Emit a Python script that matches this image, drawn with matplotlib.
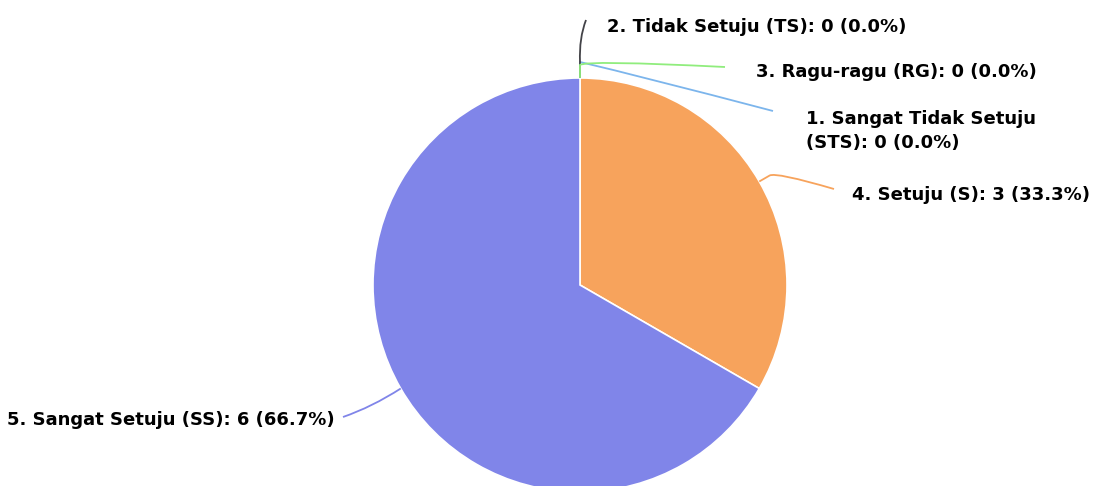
import matplotlib.pyplot as plt
from matplotlib.path import Path
from matplotlib.patches import PathPatch
import numpy as np

categories = ['1. Sangat Tidak Setuju (STS)', '2. Tidak Setuju (TS)', '3. Ragu-ragu (RG)',
              '4. Setuju (S)', '5. Sangat Setuju (SS)']
values = [0, 0, 0, 3, 6]
colors = ['#7cb5ec', '#434348', '#90ed7d', '#f7a35c', '#8085e9']

W, H = 1094, 486
CX, CY, R = 580, 285, 207


def Y(y):
    # pixel from top -> data y
    return H - y


fig = plt.figure(figsize=(W / 100, H / 100), dpi=100)
ax = fig.add_axes([0, 0, 1, 1])

wedges, _ = ax.pie(values, colors=colors, startangle=90, counterclock=False,
                   center=(CX, Y(CY)), radius=R, normalize=True,
                   wedgeprops=dict(edgecolor='white', linewidth=1.2))
ax.set_xlim(0, W)
ax.set_ylim(0, H)
ax.set_aspect('equal')
ax.axis('off')

total = sum(values)
# label layout: (text x, text y, ha, connector end x, end y, bend control, radial stub)
layout = [
    (806, 131, 'left', 773, 111, (640, 76), 16),
    (607, 27, 'left', 586, 20, (579, 38), 16),
    (756, 72, 'left', 725, 67, (585, 60), 13),
    (852, 195, 'left', 834, 189, (776, 172), 12),
    (335, 420, 'right', 343, 417, (372, 407), 0),
]

for w, cat, v, col, lay in zip(wedges, categories, values, colors, layout):
    tx, ty, ha, ex, ey, ctrl, stub = lay
    mid = np.deg2rad((w.theta1 + w.theta2) / 2)
    sx, sy = CX + R * np.cos(mid), Y(CY) + R * np.sin(mid)
    px, py = CX + (R + stub) * np.cos(mid), Y(CY) + (R + stub) * np.sin(mid)
    path = Path([(sx, sy), (px, py), (ctrl[0], Y(ctrl[1])), (ex, Y(ey))],
                [Path.MOVETO, Path.LINETO, Path.CURVE3, Path.CURVE3])
    ax.add_patch(PathPatch(path, fc='none', ec=col, lw=1.3))
    label = f'{cat}: {v} ({v / total * 100:.1f}%)'
    if cat.startswith('1.'):
        label = label.replace('Setuju (STS)', 'Setuju\n(STS)')
    ax.text(tx, Y(ty), label, ha=ha, va='center', fontsize=13,
            fontweight='bold', color='#000000', linespacing=1.4)

fig.savefig('out.png', dpi=100)
